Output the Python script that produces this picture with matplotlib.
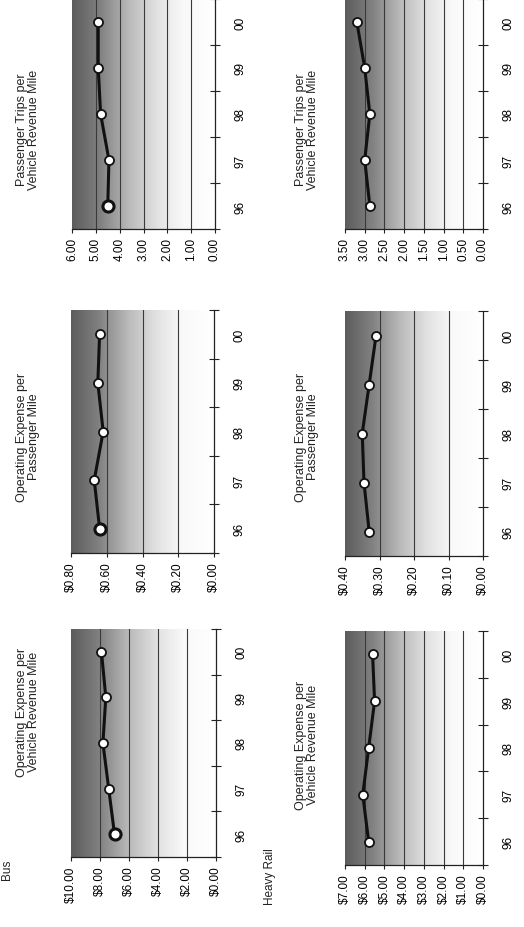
import matplotlib
matplotlib.use('Agg')
import matplotlib.pyplot as plt
import numpy as np
from matplotlib.colors import LinearSegmentedColormap

plt.rcParams['font.family'] = ['Liberation Sans', 'DejaVu Sans']

# ---------------- data ----------------
years = ['96', '97', '98', '99', '00']

bus_trips_per_vrm = [4.5, 4.45, 4.8, 4.9, 4.9]
bus_opex_per_pm = [0.64, 0.67, 0.62, 0.65, 0.64]
bus_opex_per_vrm = [7.0, 7.4, 7.8, 7.6, 7.9]

hr_trips_per_vrm = [2.87, 3.0, 2.87, 3.0, 3.2]
hr_opex_per_pm = [0.33, 0.345, 0.35, 0.33, 0.31]
hr_opex_per_vrm = [5.8, 6.1, 5.8, 5.5, 5.6]

bus_trips_ticks = [0, 1, 2, 3, 4, 5, 6]
bus_trips_labels = ['0.00', '1.00', '2.00', '3.00', '4.00', '5.00', '6.00']
bus_pm_ticks = [0, 0.2, 0.4, 0.6, 0.8]
bus_pm_labels = ['$0.00', '$0.20', '$0.40', '$0.60', '$0.80']
bus_vrm_ticks = [0, 2, 4, 6, 8, 10]
bus_vrm_labels = ['$0.00', '$2.00', '$4.00', '$6.00', '$8.00', '$10.00']

hr_trips_ticks = [0, 0.5, 1, 1.5, 2, 2.5, 3, 3.5]
hr_trips_labels = ['0.00', '0.50', '1.00', '1.50', '2.00', '2.50', '3.00', '3.50']
hr_pm_ticks = [0, 0.1, 0.2, 0.3, 0.4]
hr_pm_labels = ['$0.00', '$0.10', '$0.20', '$0.30', '$0.40']
hr_vrm_ticks = [0, 1, 2, 3, 4, 5, 6, 7]
hr_vrm_labels = ['$0.00', '$1.00', '$2.00', '$3.00', '$4.00', '$5.00', '$6.00', '$7.00']

title_trips = 'Passenger Trips per\nVehicle Revenue Mile'
title_pm = 'Operating Expense per\nPassenger Mile'
title_vrm = 'Operating Expense per\nVehicle Revenue Mile'

# ---------------- layout (pixels) ----------------
W, H = 524, 928
fig = plt.figure(figsize=(W / 100, H / 100), dpi=100)
fig.patch.set_facecolor('white')

FS = 8.5
cmap = LinearSegmentedColormap.from_list(
    'shade', [(0.0, '#5c5c5c'), (0.2, '#828282'), (0.4, '#bababa'),
              (0.6, '#e2e2e2'), (0.78, '#f9f9f9'), (1.0, '#ffffff')])


def rect(x0, x1, y0, y1):
    return [x0 / W, 1 - y1 / H, (x1 - x0) / W, (y1 - y0) / H]


panels = [
    (bus_trips_per_vrm, bus_trips_ticks, bus_trips_labels, (72, 215, 0, 230), title_trips, (28, 130), True),
    (bus_opex_per_pm, bus_pm_ticks, bus_pm_labels, (71, 214, 311, 554), title_pm, (28, 437), True),
    (bus_opex_per_vrm, bus_vrm_ticks, bus_vrm_labels, (71, 216, 630, 858), title_vrm, (28, 712), True),
    (hr_trips_per_vrm, hr_trips_ticks, hr_trips_labels, (345, 483, 0, 230), title_trips, (307, 130), False),
    (hr_opex_per_pm, hr_pm_ticks, hr_pm_labels, (345, 483, 312, 557), title_pm, (307, 437), False),
    (hr_opex_per_vrm, hr_vrm_ticks, hr_vrm_labels, (345, 483, 632, 866), title_vrm, (307, 745), False),
]

grad = np.linspace(0, 1, 256).reshape(1, -1)

for values, ticks, labels, box, title, tpos, big_first in panels:
    ax = fig.add_axes(rect(*box))
    ax.imshow(grad, cmap=cmap, extent=[0, 1, 0, 1], transform=ax.transAxes,
              aspect='auto', zorder=0, interpolation='bilinear')
    ypos = np.arange(len(years))
    ax.plot(values, ypos, color='#111111', lw=2.2, zorder=3)
    ax.plot(values, ypos, 'o', ms=6.5, mfc='white', mec='#111111', mew=1.3, zorder=4)
    if big_first:
        ax.plot(values[0], ypos[0], 'o', ms=8, mfc='white', mec='#111111', mew=2.2, zorder=5)
    ax.set_xlim(max(ticks), 0)
    ax.set_ylim(-0.5, len(years) - 0.5)
    ax.set_xticks(ticks)
    ax.set_xticklabels(labels, rotation=90, fontsize=FS)
    for x in ticks[1:-1]:
        ax.axvline(x, color='#3a3a3a', lw=0.8, zorder=1)
    ax.yaxis.tick_right()
    ax.set_yticks(ypos)
    ax.set_yticklabels(years, rotation=90, va='center', fontsize=FS)
    ax.set_yticks(np.arange(-0.5, len(years), 1), minor=True)
    ax.tick_params(axis='y', which='major', length=0, pad=14)
    ax.tick_params(axis='y', which='minor', direction='inout', length=7,
                   width=0.8, right=True, left=False, color='#222222')
    ax.tick_params(axis='x', which='major', direction='out', length=3,
                   width=0.8, pad=3, color='#222222')
    for s in ['left', 'top']:
        ax.spines[s].set_visible(False)
    for s in ['right', 'bottom']:
        ax.spines[s].set_color('#222222')
        ax.spines[s].set_linewidth(0.9)
    fig.text(tpos[0] / W, 1 - tpos[1] / H, title, rotation=90, ha='center',
             va='center', multialignment='center', fontsize=FS + 0.5,
             color='#222222', linespacing=1.1)

fig.text(270 / W, 1 - 877 / H, 'Heavy Rail', rotation=90, ha='center',
         va='center', fontsize=FS, color='#222222')
fig.text(7 / W, 1 - 870 / H, 'Bus', rotation=90, ha='center',
         va='center', fontsize=FS, color='#222222')

fig.savefig('out.png', dpi=100, facecolor='white')
